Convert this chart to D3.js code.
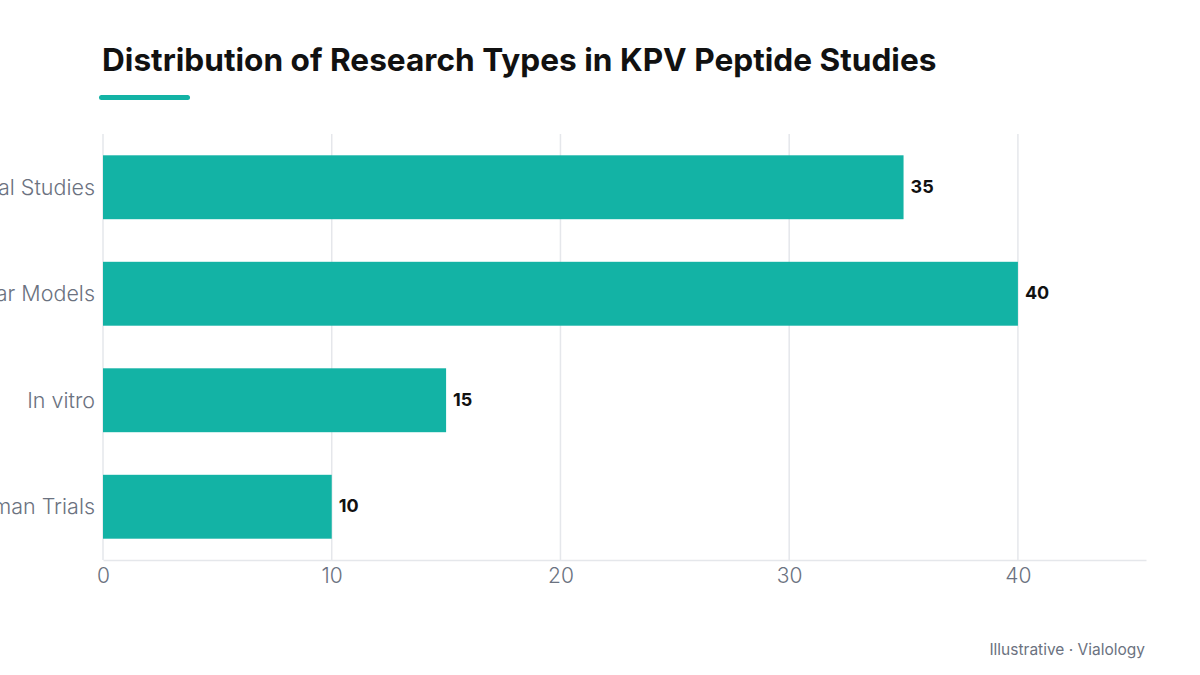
<!DOCTYPE html>
<html>
<head>
<meta charset="utf-8">
<script src="https://cdn.jsdelivr.net/npm/d3@7"></script>
<style>
  body { margin: 0; background: #fff; }
  svg { display: block; font-family: Inter, "Noto Sans", sans-serif; }
</style>
</head>
<body>
<svg id="chart" width="1200" height="675"></svg>
<script>
// Data
const categories = ["Animal Studies", "Cellular Models", "In vitro", "Human Trials"];
const values = [35, 40, 15, 10];
const xTicks = [0, 10, 20, 30, 40];

const svg = d3.select("#chart");
const margin = { top: 134, right: 54, bottom: 115, left: 103 };
const width = 1200 - margin.left - margin.right;
const height = 675 - margin.top - margin.bottom;

const teal = "#13b3a5";
const grey = "#6b7280";
const gridColor = "#e5e7eb";

// Title and accent line
svg.append("text")
  .attr("x", 102)
  .attr("y", 71)
  .attr("font-size", 31.6)
  .attr("font-weight", 700)
  .attr("fill", "#111")
  .text("Distribution of Research Types in KPV Peptide Studies");

svg.append("rect")
  .attr("x", 99)
  .attr("y", 95)
  .attr("width", 91)
  .attr("height", 5)
  .attr("rx", 2.5)
  .attr("fill", teal);

const g = svg.append("g")
  .attr("transform", `translate(${margin.left},${margin.top})`);

const x = d3.scaleLinear()
  .domain([0, d3.max(values) * 1.14])
  .range([0, width]);

const y = d3.scaleBand()
  .domain(categories)
  .range([0, height])
  .paddingInner(0.4)
  .paddingOuter(0.2);

// Grid lines
g.selectAll(".grid")
  .data(xTicks)
  .join("line")
  .attr("x1", d => x(d))
  .attr("x2", d => x(d))
  .attr("y1", 0)
  .attr("y2", height)
  .attr("stroke", gridColor)
  .attr("stroke-width", 1.5);

// Bottom axis
const xAxis = g.append("g")
  .attr("transform", `translate(0,${height})`)
  .call(d3.axisBottom(x).tickValues(xTicks).tickSize(0).tickPadding(8));
xAxis.select(".domain").attr("stroke", gridColor).attr("stroke-width", 1.5);
xAxis.selectAll("text")
  .attr("font-size", 21)
  .attr("font-weight", 300)
  .attr("fill", grey)
  .style("font-family", "Inter, 'Noto Sans', sans-serif");

// Bars
g.selectAll(".bar")
  .data(values)
  .join("rect")
  .attr("x", 0)
  .attr("y", (d, i) => y(categories[i]))
  .attr("width", d => x(d))
  .attr("height", y.bandwidth())
  .attr("fill", teal);

// Value labels
g.selectAll(".value")
  .data(values)
  .join("text")
  .attr("x", d => x(d) + 7)
  .attr("y", (d, i) => y(categories[i]) + y.bandwidth() / 2)
  .attr("dy", "0.3em")
  .attr("font-size", 18)
  .attr("font-weight", 700)
  .attr("fill", "#111")
  .text(d => d);

// Category labels (overflow past the left edge as in the original)
g.selectAll(".cat")
  .data(categories)
  .join("text")
  .attr("x", -8)
  .attr("y", d => y(d) + y.bandwidth() / 2)
  .attr("dy", "0.35em")
  .attr("text-anchor", "end")
  .attr("font-size", 21.5)
  .attr("font-weight", 300)
  .attr("fill", grey)
  .text(d => d);

// Footer
svg.append("text")
  .attr("x", 1145)
  .attr("y", 655)
  .attr("text-anchor", "end")
  .attr("font-size", 15.5)
  .attr("fill", grey)
  .text("Illustrative · Vialology");
</script>
</body>
</html>
